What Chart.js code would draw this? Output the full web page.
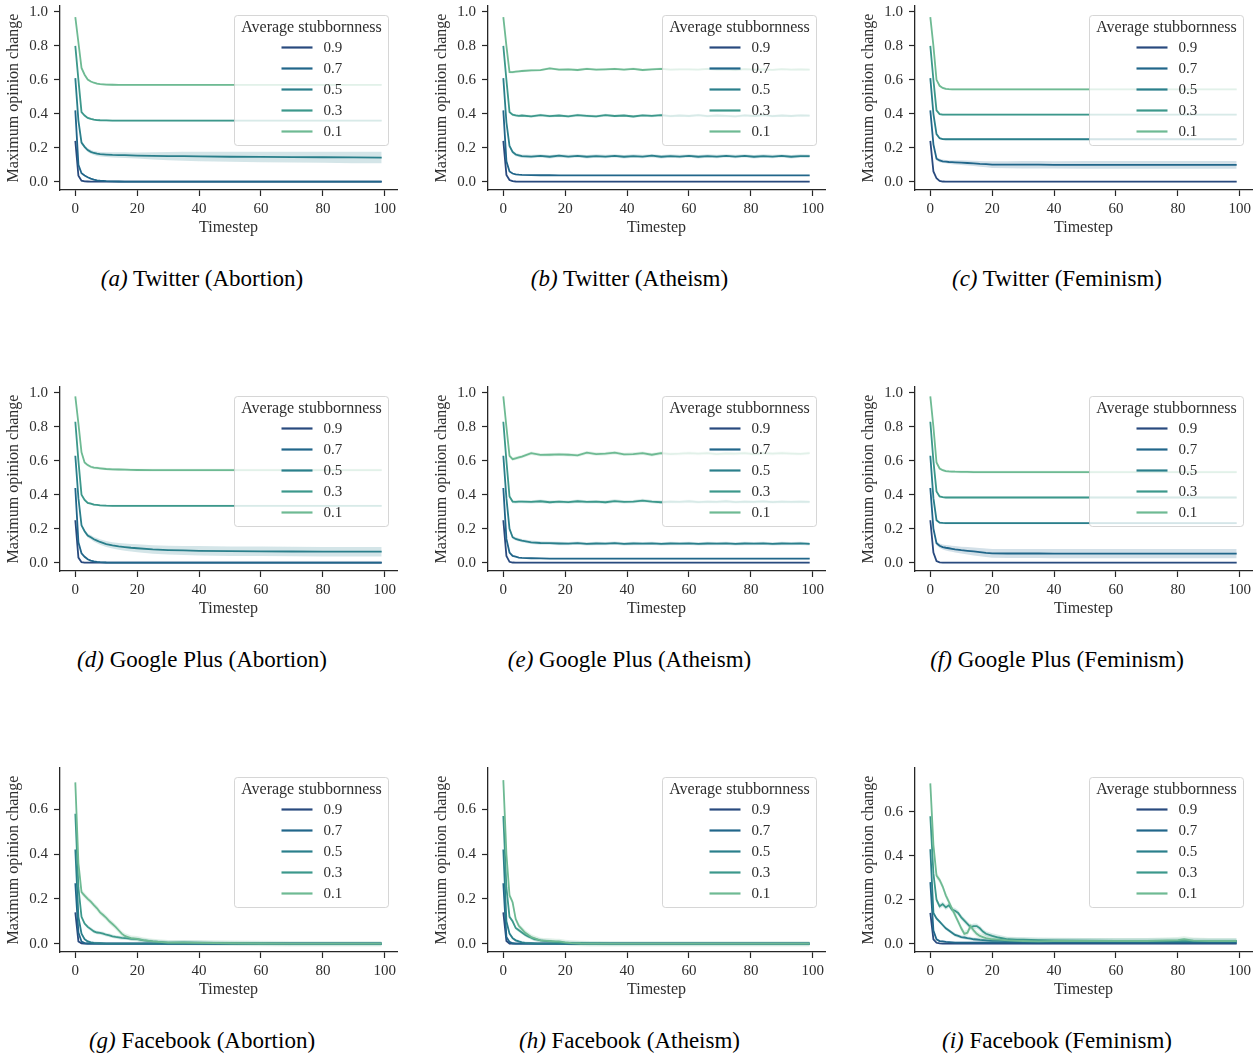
<!DOCTYPE html>
<html><head><meta charset="utf-8">
<script src="https://cdn.jsdelivr.net/npm/chart.js@4.4.0/dist/chart.umd.min.js"></script>
<style>
html,body{margin:0;padding:0;background:#fff;}
#wrap{position:relative;width:1256px;height:1057px;overflow:hidden;background:#fff;}
canvas{position:absolute;}
.cap{position:absolute;width:420px;text-align:center;font-family:"Liberation Serif","Times New Roman",serif;font-size:23px;color:#000;line-height:28px;white-space:nowrap;}
.cap i{font-style:italic;}
</style></head><body><div id="wrap"></div>
<script>
// ---------- shared axis / label data ----------
const X_TICKS = [0,20,40,60,80,100];
const Y_TICKS_TOP = [0,0.2,0.4,0.6,0.8,1.0];
const Y_TICKS_FB = [0,0.2,0.4,0.6];
const LEGEND_TITLE = 'Average stubbornness';
const LEGEND_LABELS = ['0.9','0.7','0.5','0.3','0.1'];
const COLORS = ['#294a7e','#21668a','#2a7f8b','#3c988b','#6eba93'];

// timesteps at which values were read
const STEPS_S = [0,1,2,3,4,5,6,7,8,10,12,14,16,18,20,25,30,35,40,50,60,70,80,90,99];
const STEPS_W = [0,1,2,3,4,5,6,9,12,15,18,21,24,27,30,33,36,39,42,45,48,51,54,57,60,63,66,69,72,75,78,81,84,87,90,93,96,99];
const STEPS_F = [0,1,2,3,4,5,6,7,8,9,10,11,12,13,14,15,16,17,18,20,22,25,28,30,35,40,50,60,70,80,82,85,90,99];

// (a) Twitter (Abortion)
const A_09 = [0.24,0.035,0.006,0.002,0.001,0,0,0,0,0,0,0,0,0,0,0,0,0,0,0,0,0,0,0,0];
const A_07 = [0.42,0.10,0.05,0.036,0.026,0.018,0.012,0.008,0.006,0.003,0.002,0.001,0,0,0,0,0,0,0,0,0,0,0,0,0];
const A_05 = [0.61,0.36,0.23,0.205,0.186,0.176,0.169,0.165,0.162,0.16,0.158,0.157,0.156,0.155,0.154,0.152,0.151,0.15,0.149,0.147,0.146,0.145,0.144,0.143,0.142];
const A_05_HW = [0.005,0.008,0.01,0.01,0.011,0.012,0.012,0.013,0.013,0.014,0.015,0.016,0.017,0.017,0.018,0.021,0.024,0.026,0.028,0.03,0.031,0.032,0.033,0.034,0.034];
const A_03 = [0.80,0.60,0.41,0.39,0.376,0.37,0.366,0.363,0.362,0.361,0.36,0.36,0.36,0.36,0.36,0.36,0.36,0.36,0.36,0.36,0.36,0.36,0.36,0.36,0.36];
const A_01 = [0.97,0.82,0.67,0.63,0.602,0.59,0.583,0.578,0.575,0.572,0.571,0.57,0.57,0.57,0.57,0.57,0.57,0.57,0.57,0.57,0.57,0.57,0.57,0.57,0.57];

// (b) Twitter (Atheism)
const B_09 = [0.24,0.04,0.01,0.003,0.001,0,0,0,0,0,0,0,0,0,0,0,0,0,0,0,0,0,0,0,0,0,0,0,0,0,0,0,0,0,0,0,0,0];
const B_07 = [0.42,0.12,0.06,0.048,0.043,0.041,0.04,0.039,0.038,0.038,0.037,0.037,0.037,0.037,0.037,0.037,0.037,0.037,0.037,0.037,0.037,0.037,0.037,0.037,0.037,0.037,0.037,0.037,0.037,0.037,0.037,0.037,0.037,0.037,0.037,0.037,0.037,0.037];
const B_05 = [0.61,0.35,0.21,0.175,0.16,0.155,0.15,0.148,0.152,0.147,0.153,0.148,0.152,0.147,0.151,0.148,0.152,0.147,0.151,0.148,0.153,0.147,0.151,0.148,0.152,0.147,0.151,0.148,0.152,0.148,0.152,0.147,0.151,0.148,0.152,0.147,0.151,0.15];
const B_03 = [0.80,0.60,0.41,0.395,0.39,0.388,0.39,0.385,0.392,0.386,0.39,0.385,0.392,0.388,0.385,0.392,0.387,0.39,0.384,0.391,0.388,0.392,0.386,0.39,0.387,0.392,0.386,0.39,0.388,0.385,0.391,0.387,0.392,0.386,0.39,0.387,0.391,0.389];
const B_01 = [0.97,0.80,0.645,0.645,0.648,0.65,0.652,0.656,0.657,0.668,0.66,0.662,0.658,0.665,0.66,0.662,0.664,0.66,0.665,0.658,0.662,0.665,0.66,0.662,0.662,0.66,0.664,0.66,0.662,0.658,0.663,0.66,0.662,0.659,0.663,0.66,0.662,0.66];

// (c) Twitter (Feminism)
const C_09 = [0.24,0.06,0.02,0.005,0.001,0,0,0,0,0,0,0,0,0,0,0,0,0,0,0,0,0,0,0,0];
const C_07 = [0.42,0.22,0.135,0.125,0.12,0.118,0.116,0.115,0.114,0.112,0.11,0.108,0.105,0.103,0.101,0.1,0.1,0.1,0.099,0.099,0.099,0.099,0.099,0.099,0.099];
const C_07_HW = [0.01,0.01,0.01,0.01,0.01,0.01,0.011,0.012,0.013,0.014,0.015,0.016,0.017,0.018,0.02,0.021,0.022,0.022,0.022,0.023,0.023,0.023,0.023,0.023,0.023];
const C_05 = [0.61,0.40,0.28,0.256,0.251,0.25,0.25,0.25,0.25,0.25,0.25,0.25,0.25,0.25,0.25,0.25,0.25,0.25,0.25,0.25,0.25,0.25,0.25,0.25,0.25];
const C_03 = [0.80,0.60,0.42,0.398,0.395,0.395,0.395,0.395,0.395,0.395,0.395,0.395,0.395,0.395,0.395,0.395,0.395,0.395,0.395,0.395,0.395,0.395,0.395,0.395,0.395];
const C_01 = [0.97,0.80,0.60,0.565,0.552,0.547,0.545,0.544,0.544,0.544,0.544,0.544,0.544,0.544,0.544,0.544,0.544,0.544,0.544,0.544,0.544,0.544,0.544,0.544,0.544];

// (d) Google Plus (Abortion)
const D_09 = [0.25,0.03,0.003,0,0,0,0,0,0,0,0,0,0,0,0,0,0,0,0,0,0,0,0,0,0];
const D_07 = [0.44,0.12,0.055,0.035,0.02,0.012,0.008,0.005,0.003,0.001,0,0,0,0,0,0,0,0,0,0,0,0,0,0,0];
const D_05 = [0.63,0.38,0.22,0.185,0.16,0.15,0.138,0.13,0.122,0.11,0.102,0.096,0.092,0.088,0.085,0.078,0.074,0.072,0.07,0.068,0.067,0.066,0.065,0.065,0.065];
const D_05_HW = [0.005,0.008,0.01,0.01,0.012,0.013,0.014,0.015,0.016,0.018,0.019,0.02,0.021,0.022,0.023,0.025,0.026,0.027,0.028,0.028,0.028,0.028,0.028,0.028,0.028];
const D_03 = [0.83,0.60,0.40,0.37,0.352,0.348,0.342,0.34,0.338,0.336,0.335,0.335,0.335,0.335,0.335,0.335,0.335,0.335,0.335,0.335,0.335,0.335,0.335,0.335,0.335];
const D_01 = [0.98,0.82,0.65,0.59,0.575,0.565,0.56,0.558,0.556,0.552,0.55,0.549,0.548,0.547,0.546,0.545,0.545,0.545,0.545,0.545,0.545,0.545,0.545,0.545,0.545];

// (e) Google Plus (Atheism)
const E_09 = [0.25,0.04,0.005,0.001,0,0,0,0,0,0,0,0,0,0,0,0,0,0,0,0,0,0,0,0,0,0,0,0,0,0,0,0,0,0,0,0,0,0];
const E_07 = [0.44,0.14,0.06,0.04,0.035,0.03,0.028,0.026,0.025,0.024,0.024,0.024,0.024,0.024,0.024,0.024,0.024,0.024,0.024,0.024,0.024,0.024,0.024,0.024,0.024,0.024,0.024,0.024,0.024,0.024,0.024,0.024,0.024,0.024,0.024,0.024,0.024,0.024];
const E_05 = [0.63,0.38,0.20,0.15,0.14,0.135,0.13,0.12,0.116,0.115,0.113,0.112,0.115,0.111,0.113,0.112,0.115,0.111,0.113,0.112,0.114,0.111,0.113,0.112,0.114,0.111,0.113,0.112,0.114,0.111,0.113,0.112,0.114,0.111,0.113,0.112,0.114,0.111];
const E_03 = [0.83,0.60,0.39,0.36,0.358,0.36,0.36,0.358,0.362,0.356,0.36,0.357,0.362,0.358,0.36,0.356,0.363,0.358,0.36,0.366,0.36,0.356,0.36,0.358,0.362,0.357,0.36,0.358,0.362,0.357,0.36,0.358,0.361,0.357,0.36,0.358,0.36,0.358];
const E_01 = [0.98,0.80,0.63,0.61,0.615,0.62,0.625,0.645,0.635,0.636,0.638,0.636,0.632,0.648,0.64,0.642,0.648,0.638,0.64,0.645,0.636,0.645,0.64,0.642,0.646,0.642,0.646,0.64,0.644,0.642,0.646,0.64,0.645,0.642,0.646,0.643,0.641,0.645];

// (f) Google Plus (Feminism)
const F_09 = [0.25,0.06,0.01,0.002,0,0,0,0,0,0,0,0,0,0,0,0,0,0,0,0,0,0,0,0,0];
const F_07 = [0.44,0.20,0.115,0.1,0.092,0.088,0.085,0.082,0.079,0.074,0.07,0.066,0.062,0.058,0.055,0.054,0.054,0.054,0.053,0.053,0.053,0.053,0.053,0.053,0.053];
const F_07_HW = [0.01,0.01,0.012,0.013,0.015,0.016,0.017,0.018,0.019,0.02,0.022,0.023,0.024,0.025,0.026,0.027,0.027,0.027,0.027,0.027,0.027,0.027,0.027,0.027,0.027];
const F_05 = [0.63,0.38,0.25,0.236,0.234,0.233,0.233,0.233,0.233,0.233,0.233,0.233,0.233,0.233,0.233,0.233,0.233,0.233,0.233,0.233,0.233,0.233,0.233,0.233,0.233];
const F_03 = [0.83,0.60,0.42,0.39,0.386,0.384,0.384,0.384,0.384,0.384,0.384,0.384,0.384,0.384,0.384,0.384,0.384,0.384,0.384,0.384,0.384,0.384,0.384,0.384,0.384];
const F_01 = [0.98,0.80,0.59,0.555,0.545,0.54,0.538,0.537,0.536,0.535,0.535,0.534,0.534,0.534,0.534,0.534,0.534,0.534,0.534,0.534,0.534,0.534,0.534,0.534,0.534];

// (g) Facebook (Abortion)
const G_09 = [0.14,0.01,0.002,0,0,0,0,0,0,0,0,0,0,0,0,0,0,0,0,0,0,0,0,0,0,0,0,0,0,0,0,0,0,0];
const G_07 = [0.27,0.05,0.01,0.003,0.001,0,0,0,0,0,0,0,0,0,0,0,0,0,0,0,0,0,0,0,0,0,0,0,0,0,0,0,0,0];
const G_05 = [0.42,0.12,0.045,0.02,0.01,0.006,0.004,0.003,0.002,0.001,0,0,0,0,0,0,0,0,0,0,0,0,0,0,0,0,0,0,0,0,0,0,0,0];
const G_03 = [0.58,0.25,0.12,0.09,0.075,0.065,0.055,0.05,0.048,0.045,0.04,0.037,0.033,0.03,0.028,0.026,0.025,0.024,0.022,0.02,0.015,0.01,0.007,0.005,0.006,0.005,0.002,0.001,0,0,0,0,0,0];
const G_01 = [0.72,0.36,0.23,0.215,0.2,0.188,0.172,0.158,0.14,0.128,0.115,0.1,0.088,0.075,0.06,0.045,0.035,0.03,0.025,0.022,0.016,0.01,0.007,0.005,0.005,0.004,0.002,0.001,0,0,0,0,0,0];

// (h) Facebook (Atheism)
const H_09 = [0.14,0.012,0,0,0,0,0,0,0,0,0,0,0,0,0,0,0,0,0,0,0,0,0,0,0,0,0,0,0,0,0,0,0,0];
const H_07 = [0.27,0.03,0.008,0.002,0,0,0,0,0,0,0,0,0,0,0,0,0,0,0,0,0,0,0,0,0,0,0,0,0,0,0,0,0,0];
const H_05 = [0.42,0.10,0.045,0.025,0.015,0.01,0.006,0.004,0.003,0.002,0.001,0,0,0,0,0,0,0,0,0,0,0,0,0,0,0,0,0,0,0,0,0,0,0];
const H_03 = [0.57,0.25,0.12,0.10,0.07,0.06,0.05,0.04,0.032,0.027,0.02,0.018,0.015,0.013,0.012,0.01,0.008,0.007,0.006,0.004,0.003,0.002,0.001,0.001,0,0,0,0,0,0,0,0,0,0];
const H_01 = [0.73,0.40,0.216,0.185,0.11,0.08,0.065,0.05,0.04,0.03,0.025,0.02,0.015,0.014,0.013,0.012,0.011,0.01,0.01,0.006,0.003,0.001,0,0,0,0,0,0,0,0,0,0,0,0];

// (i) Facebook (Feminism)
const I_09 = [0.14,0.02,0.004,0.001,0,0,0,0,0,0,0,0,0,0,0,0,0,0,0,0,0,0,0,0,0,0,0,0,0,0,0,0,0,0];
const I_07 = [0.28,0.06,0.02,0.012,0.01,0.008,0.007,0.006,0.005,0.005,0.005,0.005,0.005,0.005,0.005,0.005,0.005,0.005,0.005,0.005,0.005,0.005,0.005,0.005,0.005,0.005,0.005,0.005,0.005,0.005,0.005,0.005,0.005,0.005];
const I_05 = [0.43,0.14,0.115,0.1,0.085,0.07,0.06,0.05,0.04,0.035,0.03,0.028,0.025,0.023,0.02,0.019,0.017,0.016,0.015,0.013,0.013,0.012,0.012,0.011,0.011,0.01,0.01,0.01,0.01,0.01,0.01,0.01,0.01,0.01];
const I_03 = [0.58,0.32,0.2,0.17,0.18,0.165,0.175,0.155,0.15,0.14,0.12,0.105,0.09,0.075,0.08,0.08,0.07,0.055,0.045,0.035,0.028,0.02,0.018,0.018,0.016,0.015,0.014,0.013,0.013,0.013,0.013,0.013,0.012,0.012];
const I_01 = [0.73,0.45,0.31,0.29,0.26,0.22,0.19,0.16,0.13,0.1,0.07,0.045,0.05,0.08,0.06,0.045,0.035,0.03,0.025,0.02,0.018,0.015,0.013,0.012,0.01,0.012,0.012,0.012,0.012,0.016,0.02,0.014,0.012,0.012];

const Y_RANGE_TOP = [-0.049, 1.035];
const Y_RANGE_FB = [-0.037, 0.784];
const Y_RANGE_FB_I = [-0.038, 0.80];

const PANELS = [
  {label:'(a)', title:'Twitter (Abortion)', steps:STEPS_S, series:[A_09,A_07,A_05,A_03,A_01], hw:[0.003,0.003,A_05_HW,0.005,0.006], yr:Y_RANGE_TOP, yt:Y_TICKS_TOP},
  {label:'(b)', title:'Twitter (Atheism)', steps:STEPS_W, series:[B_09,B_07,B_05,B_03,B_01], hw:[0.003,0.003,0.01,0.008,0.007], yr:Y_RANGE_TOP, yt:Y_TICKS_TOP},
  {label:'(c)', title:'Twitter (Feminism)', steps:STEPS_S, series:[C_09,C_07,C_05,C_03,C_01], hw:[0.003,C_07_HW,0.005,0.005,0.006], yr:Y_RANGE_TOP, yt:Y_TICKS_TOP},
  {label:'(d)', title:'Google Plus (Abortion)', steps:STEPS_S, series:[D_09,D_07,D_05,D_03,D_01], hw:[0.003,0.003,D_05_HW,0.006,0.008], yr:Y_RANGE_TOP, yt:Y_TICKS_TOP},
  {label:'(e)', title:'Google Plus (Atheism)', steps:STEPS_W, series:[E_09,E_07,E_05,E_03,E_01], hw:[0.003,0.004,0.01,0.01,0.01], yr:Y_RANGE_TOP, yt:Y_TICKS_TOP},
  {label:'(f)', title:'Google Plus (Feminism)', steps:STEPS_S, series:[F_09,F_07,F_05,F_03,F_01], hw:[0.003,F_07_HW,0.006,0.006,0.008], yr:Y_RANGE_TOP, yt:Y_TICKS_TOP},
  {label:'(g)', title:'Facebook (Abortion)', steps:STEPS_F, series:[G_09,G_07,G_05,G_03,G_01], hw:[0.003,0.004,0.006,0.008,0.012], yr:Y_RANGE_FB, yt:Y_TICKS_FB},
  {label:'(h)', title:'Facebook (Atheism)', steps:STEPS_F, series:[H_09,H_07,H_05,H_03,H_01], hw:[0.003,0.004,0.006,0.008,0.012], yr:Y_RANGE_FB, yt:Y_TICKS_FB},
  {label:'(i)', title:'Facebook (Feminism)', steps:STEPS_F, series:[I_09,I_07,I_05,I_03,I_01], hw:[0.003,0.005,0.008,0.012,0.014], yr:Y_RANGE_FB_I, yt:Y_TICKS_FB}
];

// ---------- drawing ----------
const FONT = '"Liberation Serif", "Times New Roman", serif';
const TXT = '#2e2e2e';
const AX = '#262626';
function rgba(hex,a){const n=parseInt(hex.slice(1),16);return `rgba(${n>>16&255},${n>>8&255},${n&255},${a})`;}

const legendPlugin = {
  id:'boxLegend',
  afterDraw(chart){
    const ctx = chart.ctx, a = chart.chartArea;
    const bw = 154, bh = 130;
    const bx = Math.round(a.right - 9 - bw) + 0.5, by = Math.round(a.top + 9) + 0.5;
    ctx.save();
    ctx.beginPath();
    ctx.roundRect(bx, by, bw, bh, 3);
    ctx.fillStyle = 'rgba(255,255,255,0.8)';
    ctx.fill();
    ctx.strokeStyle = 'rgba(204,204,204,0.8)';
    ctx.lineWidth = 1;
    ctx.stroke();
    ctx.fillStyle = TXT;
    ctx.textBaseline = 'middle';
    ctx.textAlign = 'center';
    ctx.font = '16px ' + FONT;
    ctx.fillText(LEGEND_TITLE, bx + bw/2, by + 12);
    ctx.textAlign = 'left';
    ctx.font = '15px ' + FONT;
    LEGEND_LABELS.forEach((lab,i)=>{
      const y = by + 32 + i*21;
      ctx.beginPath();
      ctx.moveTo(bx + 47, y); ctx.lineTo(bx + 78, y);
      ctx.strokeStyle = COLORS[i]; ctx.lineWidth = 2.2;
      ctx.stroke();
      ctx.fillText(lab, bx + 89, y + 1);
    });
    ctx.restore();
  }
};

const wrap = document.getElementById('wrap');
PANELS.forEach((p, idx)=>{
  const col = idx % 3, row = Math.floor(idx / 3);
  const cv = document.createElement('canvas');
  cv.width = 400; cv.height = 240;
  cv.style.width = '400px'; cv.style.height = '240px';
  cv.style.left = Math.round(col*427.5) + 'px';
  cv.style.top = (row*381) + 'px';
  wrap.appendChild(cv);

  const cap = document.createElement('div');
  cap.className = 'cap';
  cap.style.left = (col*427.5 + 202 - 210) + 'px';
  cap.style.top = (row*381 + 279 - 14) + 'px';
  cap.innerHTML = '<i>' + p.label + '</i> ' + p.title;
  wrap.appendChild(cap);

  const datasets = [];
  p.series.forEach((ys, k)=>{
    const hw = p.hw[k];
    const w = i => Array.isArray(hw) ? hw[i] : hw;
    datasets.push({data:p.steps.map((t,i)=>({x:t, y:ys[i]+w(i)})), borderWidth:0, borderColor:'transparent', pointRadius:0, fill:false, order:20+k});
    datasets.push({data:p.steps.map((t,i)=>({x:t, y:ys[i]-w(i)})), borderWidth:0, borderColor:'transparent', pointRadius:0, fill:'-1', backgroundColor:rgba(COLORS[k],0.2), order:20+k});
    datasets.push({data:p.steps.map((t,i)=>({x:t, y:ys[i]})), borderColor:COLORS[k], borderWidth:1.8, pointRadius:0, fill:false, tension:0, order:5-k});
  });

  const zeroPad = s => { s.paddingLeft = 0; s.paddingRight = 0; s.paddingTop = 0; s.paddingBottom = 0; };
  new Chart(cv.getContext('2d'), {
    type:'line',
    data:{datasets},
    options:{
      responsive:false, animation:false, devicePixelRatio:1,
      layout:{padding:{left:0, right:3, top:6, bottom:0}},
      plugins:{legend:{display:false}, tooltip:{enabled:false}},
      scales:{
        x:{
          type:'linear', min:-4.95, max:103.95,
          afterBuildTicks: s => { s.ticks = X_TICKS.map(v=>({value:v})); },
          afterFit: s => { s.height = 50; zeroPad(s); },
          ticks:{font:{family:FONT, size:15}, color:TXT, padding:4, maxRotation:0, autoSkip:false, callback:v=>String(v)},
          grid:{display:true, drawOnChartArea:false, drawTicks:true, tickLength:6, tickWidth:1.2, tickColor:AX, color:AX},
          border:{display:true, color:AX, width:1.3},
          title:{display:true, text:'Timestep', font:{family:FONT, size:16}, color:TXT, padding:{top:0, bottom:3}}
        },
        y:{
          type:'linear', min:p.yr[0], max:p.yr[1],
          afterBuildTicks: s => { s.ticks = p.yt.map(v=>({value:v})); },
          afterFit: s => { s.width = 60; zeroPad(s); },
          ticks:{font:{family:FONT, size:15}, color:TXT, padding:6, autoSkip:false, callback:v=>Number(v).toFixed(1)},
          grid:{display:true, drawOnChartArea:false, drawTicks:true, tickLength:6, tickWidth:1.2, tickColor:AX, color:AX},
          border:{display:true, color:AX, width:1.3},
          title:{display:true, text:'Maximum opinion change', font:{family:FONT, size:16}, color:TXT, padding:{top:4, bottom:0}}
        }
      }
    },
    plugins:[legendPlugin]
  });
});
</script>
</body></html>
